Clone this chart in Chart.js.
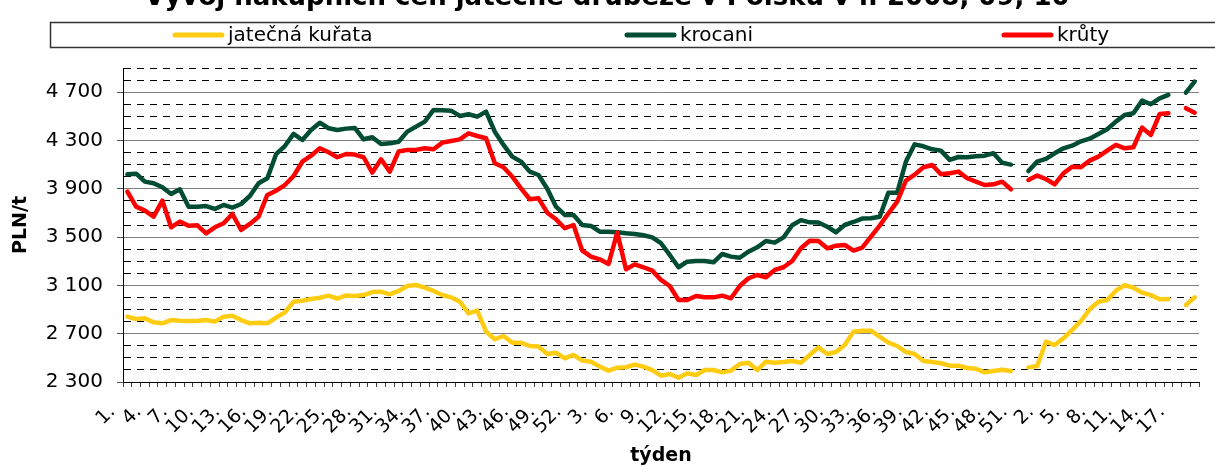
<!DOCTYPE html>
<html>
<head>
<meta charset="utf-8">
<script src="https://cdn.jsdelivr.net/npm/chart.js@4.4.1/dist/chart.umd.min.js"></script>
<style>
  body { margin: 0; background: #fff; }
  #box { width: 1215px; height: 466px; position: relative; }
</style>
</head>
<body>
<div id="box"><canvas id="myChart"></canvas></div>
<script>
// týdny: rok 1 (52), rok 2 (52), rok 3 (19)
var weeksPerYear = [52, 52, 19];
var weeks = [];
for (var y = 0; y < weeksPerYear.length; y++) {
    for (var w = 1; w <= weeksPerYear[y]; w++) weeks.push(w + '.');
}

var kurata = [
    2841, 2822, 2827, 2794, 2786, 2813, 2808, 2805, 2805, 2813, 2800, 2841, 2849, 2813, 2786, 2791, 2786, 2833, 2877, 2965,
    2973, 2987, 2998, 3015, 2990, 3017, 3012, 3020, 3045, 3048, 3026, 3054, 3095, 3103, 3081, 3054, 3020, 3001, 2965, 2869,
    2891, 2717, 2654, 2681, 2626, 2626, 2598, 2593, 2532, 2543, 2496, 2524, 2477, 2468, 2427, 2394, 2419, 2422, 2444, 2427,
    2399, 2352, 2366, 2336, 2372, 2358, 2399, 2399, 2380, 2394, 2449, 2460, 2399, 2468, 2460, 2465, 2474, 2460, 2524, 2587,
    2532, 2548, 2606, 2717, 2725, 2725, 2675, 2626, 2598, 2548, 2532, 2474, 2466, 2455, 2435, 2435, 2416, 2410, 2380, 2391,
    2402, 2391, null, 2421, 2432, 2634, 2606, 2662, 2731, 2805, 2902, 2965, 2979, 3056, 3101, 3081, 3040, 3020, 2985, 2987,
    null, 2938, 3001
];
var krocani = [
    4020, 4025, 3959, 3946, 3912, 3857, 3896, 3752, 3752, 3757, 3733, 3766, 3744, 3774, 3840, 3946, 3987, 4186, 4254, 4354,
    4304, 4387, 4447, 4401, 4387, 4398, 4404, 4310, 4327, 4271, 4276, 4290, 4373, 4415, 4456, 4553, 4550, 4547, 4503, 4517,
    4497, 4539, 4373, 4263, 4166, 4125, 4042, 4014, 3900, 3752, 3683, 3683, 3600, 3592, 3545, 3545, 3540, 3531, 3526, 3515,
    3498, 3449, 3352, 3250, 3296, 3302, 3302, 3291, 3360, 3338, 3329, 3379, 3415, 3468, 3454, 3497, 3598, 3640, 3622, 3620,
    3586, 3540, 3600, 3625, 3653, 3656, 3669, 3868, 3868, 4125, 4268, 4252, 4227, 4216, 4139, 4163, 4161, 4169, 4174, 4194,
    4116, 4100, null, 4047, 4125, 4147, 4194, 4235, 4257, 4293, 4315, 4354, 4393, 4456, 4511, 4525, 4630, 4600, 4649, 4677,
    null, 4696, 4787
];
var kruty = [
    3876, 3752, 3719, 3669, 3802, 3581, 3628, 3594, 3597, 3531, 3581, 3614, 3691, 3559, 3609, 3669, 3849, 3884, 3931, 4006,
    4124, 4174, 4235, 4202, 4161, 4188, 4183, 4161, 4034, 4144, 4042, 4208, 4222, 4222, 4235, 4227, 4282, 4296, 4309, 4359,
    4337, 4318, 4111, 4078, 4000, 3904, 3813, 3821, 3702, 3647, 3573, 3600, 3388, 3338, 3316, 3277, 3537, 3233, 3274, 3250,
    3222, 3145, 3095, 2979, 2979, 3012, 3001, 3001, 3015, 2993, 3095, 3159, 3186, 3167, 3228, 3250, 3302, 3407, 3470, 3468,
    3407, 3429, 3435, 3388, 3412, 3504, 3595, 3697, 3794, 3967, 4017, 4078, 4097, 4020, 4028, 4042, 3987, 3959, 3931, 3937,
    3959, 3896, null, 3973, 4009, 3981, 3937, 4028, 4083, 4078, 4133, 4166, 4216, 4263, 4235, 4244, 4406, 4346, 4519, 4525,
    null, 4567, 4530
];

var seriesNames = ['jatečná kuřata', 'krocani', 'krůty'];
var seriesColors = ['#FFCC14', '#004D33', '#FF0000'];
var chartTitle = 'Vývoj nákupních cen jatečné drůbeže v Polsku v r. 2008, 09, 10';

var yMin = 2300, yMax = 4900, yMajor = 400, yMinor = 100;

function isMajor(v) { return (v - yMin) % yMajor === 0; }
function fmt(v) {
    var s = String(v % 1000);
    while (s.length < 3) s = '0' + s;
    return Math.floor(v / 1000) + ' ' + s;
}

// nadpis a legenda v rámečku
var titleLegend = {
    id: 'titleLegend',
    beforeDraw: function (chart) {
        var c = chart.ctx;
        c.save();
        c.fillStyle = '#fff';
        c.fillRect(0, 0, chart.width, chart.height);
        c.restore();
    },
    afterDraw: function (chart) {
        var c = chart.ctx;
        c.save();
        c.fillStyle = '#000';
        c.font = 'bold 26px "DejaVu Sans"';
        c.textAlign = 'center';
        c.textBaseline = 'alphabetic';
        c.fillText(chartTitle, 607, 5);

        c.strokeStyle = '#333';
        c.lineWidth = 1.5;
        c.strokeRect(50.5, 22.5, 1180, 25);

        var lineX = [172, 624, 1001];
        c.font = '20px "DejaVu Sans"';
        c.textAlign = 'left';
        for (var i = 0; i < seriesNames.length; i++) {
            c.strokeStyle = seriesColors[i];
            c.lineWidth = 5;
            c.lineCap = 'round';
            c.beginPath();
            c.moveTo(lineX[i] + 3, 35);
            c.lineTo(lineX[i] + 50, 35);
            c.stroke();
            c.fillText(seriesNames[i], lineX[i] + 56, 41);
        }
        c.restore();
    }
};

var ctx = document.getElementById('myChart');
var myChart = new Chart(ctx, {
    type: 'line',
    data: {
        labels: weeks,
        datasets: [{
            label: seriesNames[0], data: kurata, borderColor: seriesColors[0], backgroundColor: seriesColors[0], order: 2
        }, {
            label: seriesNames[1], data: krocani, borderColor: seriesColors[1], backgroundColor: seriesColors[1], order: 1
        }, {
            label: seriesNames[2], data: kruty, borderColor: seriesColors[2], backgroundColor: seriesColors[2], order: 0
        }]
    },
    options: {
        responsive: true,
        maintainAspectRatio: false,
        animation: false,
        spanGaps: false,
        layout: { padding: { top: 68, left: 0, right: 16, bottom: 0 } },
        elements: {
            line: { borderWidth: 4.5, tension: 0, borderJoinStyle: 'round', borderCapStyle: 'round' },
            point: { radius: 0, hoverRadius: 0 }
        },
        plugins: {
            legend: { display: false },
            title: { display: false },
            tooltip: { enabled: false }
        },
        scales: {
            x: {
                offset: true,
                afterFit: function (scale) {
                    scale.height = 84;
                    scale.paddingLeft = 0;
                    scale.paddingRight = 0;
                },
                grid: { offset: true, drawOnChartArea: false, drawTicks: true, tickLength: 5, color: '#444' },
                border: { color: '#000', width: 1 },
                ticks: {
                    autoSkip: false, maxRotation: 45, minRotation: 45, padding: 14, labelOffset: -15,
                    color: '#000', font: { family: 'DejaVu Sans', size: 19 },
                    callback: function (v, i) { return i % 3 === 0 ? weeks[i] : ''; }
                },
                title: {
                    display: true, text: 'týden', color: '#000', padding: { top: 0, bottom: 0 },
                    font: { family: 'DejaVu Sans', size: 19, weight: 'bold', lineHeight: 1 }
                }
            },
            y: {
                min: yMin, max: yMax,
                afterFit: function (scale) { scale.width = 123; },
                grid: {
                    color: function (c) { return c.tick && isMajor(c.tick.value) ? '#808080' : '#000'; },
                    tickColor: function (c) { return c.tick && isMajor(c.tick.value) ? '#555' : 'rgba(0,0,0,0)'; },
                    lineWidth: 1, tickLength: 6
                },
                border: {
                    color: '#000', width: 1,
                    dash: function (c) { return c.tick && !isMajor(c.tick.value) ? [7, 6] : []; }
                },
                ticks: {
                    stepSize: yMinor, autoSkip: false, padding: 14, color: '#000',
                    font: { family: 'DejaVu Sans', size: 20 },
                    callback: function (v) { return isMajor(v) ? fmt(v) : ''; }
                },
                title: {
                    display: true, text: 'PLN/t', color: '#000', padding: { top: 10, bottom: 0 },
                    font: { family: 'DejaVu Sans', size: 19, weight: 'bold', lineHeight: 1.2 }
                }
            }
        }
    },
    plugins: [titleLegend]
});
</script>
</body>
</html>
